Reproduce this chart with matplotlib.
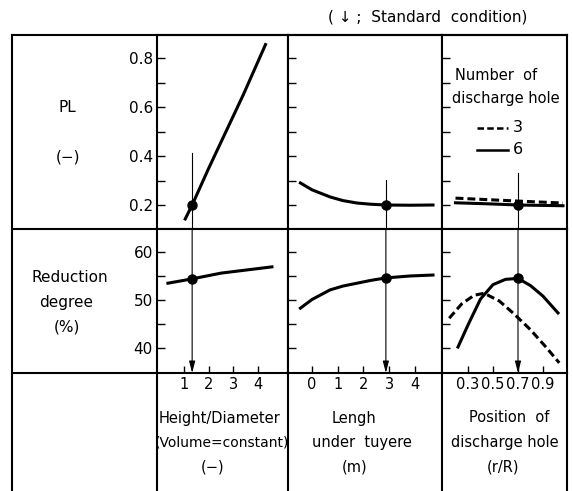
import matplotlib
matplotlib.use('Agg')
import matplotlib.pyplot as plt
from matplotlib.ticker import FixedLocator
from matplotlib.lines import Line2D

W, H = 573, 491
plt.rcParams['font.family'] = 'DejaVu Sans'

# Height/Diameter column
hd_x = [1.05, 1.33, 2.0, 2.7, 3.4, 4.3]
hd_pl = [0.143, 0.2, 0.35, 0.50, 0.65, 0.855]
hd_red_x = [0.35, 1.33, 2.5, 4.56]
hd_red = [53.5, 54.4, 55.6, 56.9]
hd_std = 1.33

# Length under tuyere column
len_x = [-0.45, 0.0, 0.7, 1.2, 1.75, 2.3, 2.87, 3.8, 4.7]
len_pl = [0.29, 0.262, 0.233, 0.218, 0.208, 0.203, 0.2, 0.199, 0.2]
len_red = [48.3, 50.1, 52.1, 52.9, 53.5, 54.1, 54.6, 55.0, 55.2]
len_std = 2.87

# Position of discharge hole column
pos_pl3_x = [0.2, 0.7, 1.06]
pos_pl3 = [0.228, 0.216, 0.208]
pos_pl6_x = [0.2, 0.45, 0.7, 1.06]
pos_pl6 = [0.209, 0.205, 0.2, 0.197]
pos_red6_x = [0.22, 0.3, 0.4, 0.5, 0.6, 0.7, 0.8, 0.9, 1.02]
pos_red6 = [40.2, 44.8, 50.2, 53.2, 54.3, 54.5, 53.0, 50.8, 47.3]
pos_red3_x = [0.15, 0.25, 0.35, 0.43, 0.55, 0.66, 0.8, 0.93, 1.03]
pos_red3 = [46.2, 49.2, 51.0, 51.4, 49.8, 47.3, 43.8, 40.0, 36.9]
pos_std = 0.7

col_px = [157, 288, 442, 567]
xlims = [(-0.093, 5.21), (-0.932, 5.05), (0.092, 1.092)]
xticks = [[1, 2, 3, 4], [0, 1, 2, 3, 4], [0.3, 0.5, 0.7, 0.9]]
xticklabels = [['1', '2', '3', '4'], ['0', '1', '2', '3', '4'], ['0.3', '0.5', '0.7', '0.9']]
pl_lim = (0.102, 0.894)
red_lim = (34.79, 64.79)
std_top = [0.412, 0.302, 0.33]


def box(x0, y0, x1, y1):
    return [x0 / W, 1 - y1 / H, (x1 - x0) / W, (y1 - y0) / H]


def fx(x):
    return x / W


def fy(y):
    return 1 - y / H


fig = plt.figure(figsize=(W / 100, H / 100), dpi=100)

lw_frame = 1.5
lw_curve = 2.2
dash = (0, (2.6, 1.3))

pl_axes = []
red_axes = []
for i in range(3):
    a = fig.add_axes(box(col_px[i], 35, col_px[i + 1], 229))
    b = fig.add_axes(box(col_px[i], 229, col_px[i + 1], 373))
    for ax in (a, b):
        ax.set_xlim(*xlims[i])
        for s in ax.spines.values():
            s.set_linewidth(lw_frame)
        ax.tick_params(direction='in', length=6, width=1.0, right=False, top=False)
        ax.tick_params(which='minor', direction='in', length=6, width=1.0)
    a.set_ylim(*pl_lim)
    a.yaxis.set_major_locator(FixedLocator([0.2, 0.4, 0.6, 0.8]))
    a.yaxis.set_minor_locator(FixedLocator([0.1, 0.3, 0.5, 0.7]))
    a.set_xticks([])
    b.set_ylim(*red_lim)
    b.yaxis.set_major_locator(FixedLocator([40, 50, 60]))
    b.yaxis.set_minor_locator(FixedLocator([45, 55]))
    b.set_xticks(xticks[i])
    b.set_xticklabels(xticklabels[i])
    b.tick_params(axis='x', labelsize=10.5, pad=3, length=5)
    if i == 0:
        a.tick_params(axis='y', labelsize=11, pad=3)
        b.tick_params(axis='y', labelsize=11, pad=3)
    else:
        a.set_yticklabels([])
        b.set_yticklabels([])
    pl_axes.append(a)
    red_axes.append(b)

# curves
pl_axes[0].plot(hd_x, hd_pl, color='k', lw=lw_curve)
red_axes[0].plot(hd_red_x, hd_red, color='k', lw=lw_curve)
pl_axes[1].plot(len_x, len_pl, color='k', lw=lw_curve)
red_axes[1].plot(len_x, len_red, color='k', lw=lw_curve)
pl_axes[2].plot(pos_pl3_x, pos_pl3, color='k', lw=lw_curve, ls=dash)
pl_axes[2].plot(pos_pl6_x, pos_pl6, color='k', lw=lw_curve)
red_axes[2].plot(pos_red3_x, pos_red3, color='k', lw=lw_curve, ls=dash)
red_axes[2].plot(pos_red6_x, pos_red6, color='k', lw=lw_curve)

# standard condition markers
stds = [hd_std, len_std, pos_std]
std_pl = [0.2, 0.2, 0.2]
std_red = [54.4, 54.6, 54.5]
for i in range(3):
    a, b = pl_axes[i], red_axes[i]
    a.plot([stds[i], stds[i]], [std_top[i], pl_lim[0]], color='k', lw=0.8)
    a.plot([stds[i]], [std_pl[i]], 'o', color='k', ms=6.5, zorder=5)
    b.annotate('', xy=(stds[i], red_lim[0]), xytext=(stds[i], red_lim[1]),
               arrowprops=dict(arrowstyle='-|>,head_length=0.7,head_width=0.18',
                               lw=0.8, color='k', shrinkA=0, shrinkB=0))
    b.plot([stds[i]], [std_red[i]], 'o', color='k', ms=6.5, zorder=5)

# legend text in the last PL panel
fig.text(fx(455), fy(76), 'Number  of', fontsize=10.5, ha='left', va='center')
fig.text(fx(452), fy(98), 'discharge hole', fontsize=10.5, ha='left', va='center')
fig.add_artist(Line2D([fx(477), fx(508)], [fy(128), fy(128)], color='k', lw=1.8, ls=dash))
fig.add_artist(Line2D([fx(477), fx(508)], [fy(150), fy(150)], color='k', lw=1.8))
fig.text(fx(513), fy(128), '3', fontsize=11.5, ha='left', va='center')
fig.text(fx(513), fy(150), '6', fontsize=11.5, ha='left', va='center')

# table frame
frame = [
    ([12, 567], [35, 35]),
    ([12, 12], [35, 491]),
    ([12, 157], [229, 229]),
    ([12, 157], [373, 373]),
]
for x in col_px:
    frame.append(([x, x], [373, 491]))
for xs, ys in frame:
    fig.add_artist(Line2D([fx(v) for v in xs], [fy(v) for v in ys], color='k', lw=lw_frame))

# left column labels
fig.text(fx(67), fy(108), 'PL', fontsize=11, ha='center', va='center')
fig.text(fx(68), fy(157), '(\u2212)', fontsize=11, ha='center', va='center')
fig.text(fx(70), fy(278), 'Reduction', fontsize=11, ha='center', va='center')
fig.text(fx(66), fy(302), 'degree', fontsize=11, ha='center', va='center')
fig.text(fx(67), fy(327), '(%)', fontsize=11, ha='center', va='center')

# bottom row labels
bottom = [
    (220, 418, 'Height/Diameter', 10.5), (222, 443, '(Volume=constant)', 10.0), (213, 467, '(\u2212)', 10.5),
    (354, 418, 'Lengh', 10.5), (362, 443, 'under  tuyere', 10.5), (355, 467, '(m)', 10.5),
    (509, 418, 'Position  of', 10.5), (505, 443, 'discharge hole', 10.5), (503, 467, '(r/R)', 10.5),
]
for x, y, s, fs in bottom:
    fig.text(fx(x), fy(y), s, fontsize=fs, ha='center', va='center')

fig.text(fx(428), fy(17), '( \u2193 ;  Standard  condition)', fontsize=11, ha='center', va='center')

fig.savefig('out.png', dpi=100)
